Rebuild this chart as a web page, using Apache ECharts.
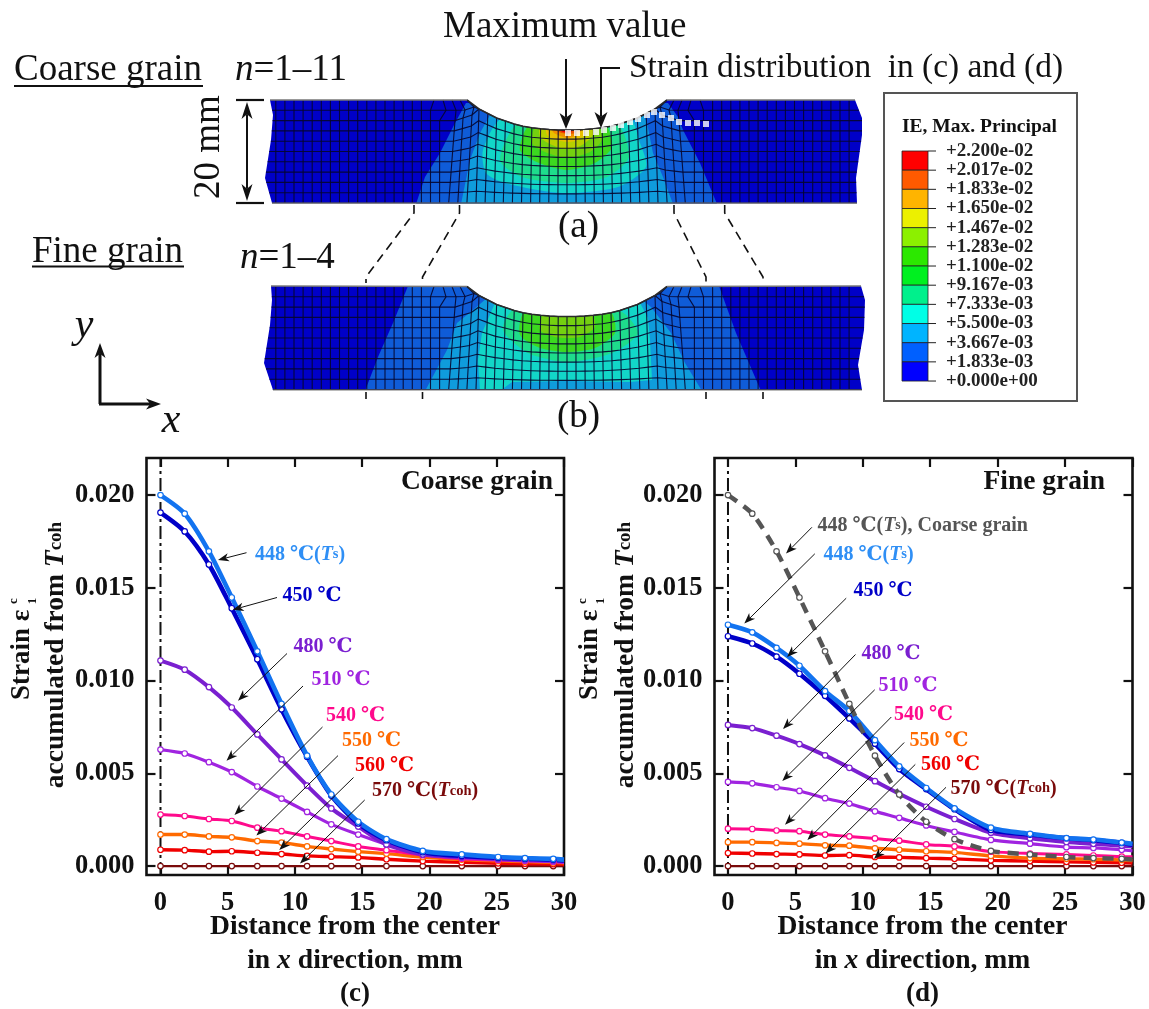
<!DOCTYPE html>
<html><head><meta charset="utf-8">
<style>html,body{margin:0;padding:0;background:#fff}#c{width:1149px;height:1009px}</style>
<script src="https://cdn.jsdelivr.net/npm/echarts@6/dist/echarts.min.js"></script>
</head><body><div id="c"></div>
<script>
// ---------- data ----------
const distance = [0,1.8,3.6,5.3,7.2,9.0,10.9,12.7,14.7,16.8,19.5,22.4,25.1,27.1,29.2,30];
const yTicks = [0,0.005,0.010,0.015,0.020];
const xTicks = [0,5,10,15,20,25,30];

const coarse448 = [.0200,.0190,.01697,.01448,.01158,.00875,.00595,.00386,.00239,.00145,.00082,.00063,.00049,.00043,.00039,.00035];
const coarse450 = [.01906,.01804,.01626,.0139,.01115,.00845,.0059,.0038,.0023,.0014,.00075,.00055,.00045,.0004,.00035,.0003];
const coarse480 = [.01108,.01059,.00965,.00855,.0071,.00575,.00434,.00311,.00213,.00117,.00063,.0005,.0004,.00035,.0003,.00028];
const coarse510 = [.00628,.00607,.0056,.00507,.00429,.00364,.00292,.00225,.0017,.00117,.00063,.00045,.00035,.0003,.00025,.0002];
const coarse540 = [.00278,.0027,.00254,.00243,.00207,.00188,.0016,.00135,.00106,.00086,.00059,.0004,.00032,.00028,.00024,.0002];
const coarse550 = [.0017,.0017,.0016,.00155,.00135,.00127,.00106,.00092,.00078,.00067,.00049,.00035,.00028,.00024,.0002,.00018];
const coarse560 = [.00088,.00086,.00078,.0008,.00072,.00065,.00055,.00051,.00047,.00037,.00027,.0002,.00015,.00013,.00011,.0001];
const coarse570 = [0,0,0,0,0,0,0,0,0,0,0,0,0,0,0,0];

const fine448 = [.01301,.0126,.01176,.0108,.00943,.00836,.00679,.00538,.00421,.00311,.00207,.00174,.00151,.00143,.00127,.0012];
const fine450 = [.01239,.012,.01129,.01037,.00918,.00796,.0066,.00523,.00415,.00307,.00195,.0017,.0015,.0014,.00125,.00115];
const fine480 = [.00761,.00744,.00703,.00658,.00597,.0053,.00458,.0039,.0032,.00254,.0018,.0015,.0013,.0012,.0011,.00105];
const fine510 = [.00454,.00446,.00425,.00405,.00366,.00337,.00295,.0026,.00219,.00184,.00141,.00121,.00102,.00098,.00088,.00082];
const fine540 = [.00202,.002,.00192,.00188,.0017,.0016,.00149,.00137,.00117,.00106,.00078,.00068,.00063,.00057,.00051,.0005];
const fine550 = [.00129,.00129,.00125,.00121,.00112,.0011,.00096,.00088,.0008,.00074,.00055,.00043,.00039,.00037,.00033,.0003];
const fine560 = [.0007,.00068,.00065,.00063,.00057,.00059,.00049,.00047,.00043,.00039,.00031,.00027,.00023,.0002,.00018,.00017];
const fine570 = [0,0,0,0,0,0,0,0,0,0,0,0,0,0,0,0];

const contourLabels = ['+2.200e-02','+2.017e-02','+1.833e-02','+1.650e-02','+1.467e-02','+1.283e-02','+1.100e-02','+9.167e-03','+7.333e-03','+5.500e-03','+3.667e-03','+1.833e-03','+0.000e+00'];
const contourKey = ['#ff0000','#ff5a00','#ffb400','#ecf000','#8cf000','#2ce800','#00f020','#00f08c','#00ffe6','#00b4ff','#0060ff','#0000ff'];

// ---------- styles ----------
const F = "'Liberation Serif','DejaVu Serif','Noto Sans CJK SC',serif";
const C = {t448:'#1273f0',t450:'#0000c8',t480:'#7a1fd0',t510:'#a024e0',t540:'#ff0a8c',t550:'#ff6a00',t560:'#f00000',t570:'#7a0a0a',gray:'#555555'};
const lineDefs = [
  ['570',C.t570,2.4],['560',C.t560,3.4],['550',C.t550,3.4],['540',C.t540,3],['510',C.t510,3.2],['480',C.t480,4],['450',C.t450,4.6],['448',C.t448,4.6]
];

// ---------- schematic scene (hidden axes in scene units) ----------
const plateShade = {base:'#0000c8',b1:'#0f5cd8',b2:'#0f9cdc',b3:'#12d6c8',b4:'#1edc8c',b5:'#3cd820',b6:'#74d010',b7:'#b8d000',b8:'#e8c000',b9:'#f09000',b10:'#e85000',b11:'#ee0000'};
const edgeLeftA=[[270,100],[273,115],[271,140],[265,178],[272,203]];
const edgeRightA=[[855,100],[862,118],[862,135],[856,178],[857,203]];
const edgeLeftB=[[271,286],[272,300],[270,325],[264,363],[273,390]];
const edgeRightB=[[861,286],[865,300],[864,330],[858,365],[862,390]];

const bandsA=[
 ['b1',[[416,204],[425,177],[440,153],[455,123],[466,103],[668,103],[678,117],[683,130],[700,163],[717,204]],0],
 ['b2',[[461,204],[470,160],[480,133],[490,115],[640,108],[647,123],[653,153],[663,177],[673,204]],0],
 ['b3',[[503,118],[483,150],[486,173],[505,183],[562,193],[618,187],[646,167],[640,143],[629,118]],.25],
 ['b4',[[520,122],[500,160],[522,177],[567,183],[607,177],[629,157],[615,122]],.25],
 ['b5',[[531,124],[520,150],[539,163],[567,170],[595,163],[612,147],[604,124]],.25],
 ['b6',[[537,125],[532,143],[545,152],[567,158],[590,152],[602,140],[597,125]],.25],
 ['b7',[[541,125],[540,137],[552,145],[567,149],[582,145],[593,135],[591,125]],.25],
 ['b8',[[547,125],[547,135],[557,140],[567,142],[578,140],[586,133],[585,125]],.25],
 ['b9',[[552,125],[553,132],[560,136],[567,138],[575,136],[581,131],[581,125]],.25],
 ['b10',[[556,125],[557,131],[567,134],[575,133],[578,130],[578,125]],.25],
 ['b11',[[558,125],[561,131],[567,133],[572,131],[574,125]],.25]
];
const bandsB=[
 ['b1',[[408,286],[719,286],[736,333],[761,391],[365,391],[378,357],[393,323]],0],
 ['b2',[[487,298],[473,310],[457,323],[447,350],[425,391],[702,391],[685,363],[671,333],[651,307],[640,298]],0],
 ['b3',[[495,303],[482,333],[478,360],[480,391],[500,391],[512,382],[567,381],[630,382],[652,380],[650,340],[648,318],[640,303]],0],
 ['b4',[[514,310],[503,330],[528,353],[567,362],[612,353],[638,333],[618,310]],.25],
 ['b5',[[525,312],[520,335],[540,348],[567,352],[595,348],[615,333],[610,312]],.25],
 ['b6',[[545,312],[540,330],[555,337],[567,338],[580,337],[595,327],[590,312]],.25]
];
const surfaceDrop=[30,30,29.5,28.8,27.8,26.2,24,21,18,13.5,9];
const strainPath=[[568,133],[577,133],[586,133],[596,132],[604,130],[613,128],[621,125],[630,122],[638,119],[647,115],[654,112],[662,115],[671,118],[679,122],[688,123],[697,123],[706,124]];

const lerp=(a,b,t)=>a+(b-a)*t;
function edgeX(edge,y){for(let i=0;i<edge.length-1;i++){if(y<=edge[i+1][1]){const t=(y-edge[i][1])/(edge[i+1][1]-edge[i][1]);return lerp(edge[i][0],edge[i+1][0],t);}}return edge[edge.length-1][0];}
function node(k,j){
  const a=Math.abs(k),s=k<0?-1:1,xb=9.1*a;let x,y;
  if(j>=2){
    let x2,y2;
    if(a<=10){x2=8.8*a;y2=surfaceDrop[a];}
    else if(a<=13){x2=[95,104,112][a-11];y2=[15,18,20.6][a-11];}
    else{x2=xb;y2=20.6;}
    const t=(j-2)/8;x=lerp(x2,xb,t);y=lerp(y2,103,t);
  }else if(a<11){return null;}
  else if(j===1){x=a<=14?[93,102,111,121][a-11]:xb;y=a<=12?[7,10][a-11]:10.3;}
  else{x=a<=15?[100,107,115,124,133][a-11]:xb;y=0;}
  return [s*x,y];
}
const draw=[];
function plate(top,edgeL,edgeR,bands){
  const cx=567,P=p=>[cx+p[0],top+p[1]];
  draw.push({t:'polygon',pts:[...edgeL,...edgeR.slice().reverse()],fill:plateShade.base});
  bands.forEach(b=>draw.push({t:'polygon',pts:b[1],fill:plateShade[b[0]],smooth:b[2]}));
  // cover the notch and anything under the plate
  const arc=[];for(let k=-10;k<=10;k++)arc.push(P(node(k,2)));
  const notch=[P([-100,0]),P([-94,4.5]),...arc,P([94,4.5]),P([100,0])];
  draw.push({t:'polygon',pts:[P([-104,-2]),...notch,P([104,-2])],fill:'#ffffff'});
  draw.push({t:'polygon',pts:[[360,top+103.5],[770,top+103.5],[770,top+110],[360,top+110]],fill:'#ffffff'});
  // mesh
  const ln={t:'polyline',stroke:'#05052e',lw:1.1,op:.9};
  for(let k=-32;k<=31;k++){const pts=[];for(let j=0;j<=10;j++){const n=node(k,j);if(n)pts.push(P(n));}if(pts.length)draw.push({...ln,pts});}
  for(let j=2;j<=10;j++){const pts=[];for(let k=-32;k<=31;k++)pts.push(P(node(k,j)));
    const y0=pts[0][1];pts.unshift([edgeX(edgeL,y0),y0]);const y1=pts[pts.length-1][1];pts.push([edgeX(edgeR,y1),y1]);draw.push({...ln,pts});}
  const r1=[P(node(-10,2))],r2=[P(node(10,2))];
  for(let k=11;k<=32;k++){r1.push(P(node(-k,1)));if(k<=31)r2.push(P(node(k,1)));}
  r1.push([edgeX(edgeL,top+10.3),top+10.3]);r2.push([edgeX(edgeR,top+10.3),top+10.3]);
  draw.push({...ln,pts:r1},{...ln,pts:r2});
  // outline
  draw.push({t:'polyline',pts:notch,stroke:'#2a2a2a',lw:1.6});
  draw.push({t:'polyline',pts:[edgeL[0],P([-100,0])],stroke:'#777',lw:1.4});
  draw.push({t:'polyline',pts:[P([100,0]),edgeR[0]],stroke:'#777',lw:1.4});
  draw.push({t:'polyline',pts:[edgeL[edgeL.length-1],edgeR[edgeR.length-1]],stroke:'#777',lw:1.2});
}
plate(100,edgeLeftA,edgeRightA,bandsA);
plate(286.5,edgeLeftB,edgeRightB,bandsB);
// contour key
const keyX0=902,keyX1=928,keyTick=936,keyTop=151,keyStep=19.17;
contourKey.forEach((c,i)=>{const a=keyTop+i*keyStep,b=a+keyStep;
  draw.push({t:'polygon',pts:[[keyX0,a],[keyX1,a],[keyX1,b],[keyX0,b]],fill:c,stroke:'#222',lw:.8});});
contourLabels.forEach((l,i)=>{const y=keyTop+i*keyStep;draw.push({t:'polyline',pts:[[keyX1,y],[keyTick,y]],stroke:'#222',lw:1});});

function renderScene(params,api){
  const d=draw[params.dataIndex],pts=d.pts.map(p=>api.coord(p));
  const style=d.t==='polygon'?{fill:d.fill,stroke:d.stroke||null,lineWidth:d.lw||0}:{fill:null,stroke:d.stroke,lineWidth:d.lw,opacity:d.op==null?1:d.op};
  return {type:d.t,z2:params.dataIndex,shape:{points:pts,smooth:d.smooth||0},style,silent:true};
}

// ---------- annotations ----------
const els=[];
function txt(x,y,text,o={}){
  els.push({type:'text',x,y,rotation:o.rot||0,z:200,silent:true,style:{text,fontFamily:F,fontSize:o.size||20,fontWeight:o.weight||'normal',fontStyle:o.style||'normal',fill:o.color||'#111',align:o.align||'left',verticalAlign:'middle',rich:o.rich,lineHeight:o.lh}});
}
function richSet(size,color,small){
  const b={fontFamily:F,fontSize:size,fontWeight:'bold',fill:color};
  return {a:{...b},i:{...b,fontStyle:'italic'},s:{...b,fontSize:small||size*.72}};
}
function arrow(x1,y1,x2,y2,o={}){
  const L=o.len||11,W=o.w||4.2,col=o.color||'#111',lw=o.lw||1;
  const d=Math.hypot(x2-x1,y2-y1),ux=(x2-x1)/d,uy=(y2-y1)/d,nx=-uy,ny=ux;
  const bx=x2-ux*L,by=y2-uy*L,mx=x2-ux*L*.72,my=y2-uy*L*.72;
  if(!o.noLine)els.push({type:'polyline',z:190,silent:true,shape:{points:[[x1,y1],[mx,my]]},style:{stroke:col,lineWidth:lw,fill:null}});
  els.push({type:'polygon',z:191,silent:true,shape:{points:[[x2,y2],[bx+nx*W,by+ny*W],[mx,my],[bx-nx*W,by-ny*W]]},style:{fill:col}});
}
function path(pts,o={}){els.push({type:'polyline',z:190,silent:true,shape:{points:pts},style:{stroke:o.color||'#111',lineWidth:o.lw||1.5,lineDash:o.dash,fill:null}});}

// header text
txt(443,27,'Maximum value',{size:37});
txt(14,70,'Coarse grain',{size:37});path([[14,86],[203,86]],{lw:2});
txt(32,252,'Fine grain',{size:37});path([[32,266.5],[184,266.5]],{lw:2});
const nRich={a:{fontFamily:F,fontSize:37,fill:'#111'},i:{fontFamily:F,fontSize:37,fontStyle:'italic',fill:'#111'}};
txt(235,70,'{i|n}{a|=1–11}',{rich:nRich});
txt(240,258,'{i|n}{a|=1–4}',{rich:nRich});
txt(629,68,'Strain distribution  in (c) and (d)',{size:33.4});
txt(209,147,'20 mm',{size:37,rot:Math.PI/2,align:'center'});
txt(578.5,227,'(a)',{size:37,align:'center'});
txt(578.5,417,'(b)',{size:37,align:'center'});
txt(84,326,'y',{size:42,style:'italic',align:'center'});
txt(171,421,'x',{size:42,style:'italic',align:'center'});
// header arrows
arrow(566,59,566,129,{len:16,w:6.5,lw:2});
path([[620,68],[601,68],[601,112]],{lw:2});arrow(601,100,601,128,{len:16,w:6.5,lw:2});
path([[236,100],[264,100]],{lw:2.2});path([[236,203],[264,203]],{lw:2.2});
arrow(247,150,247,102,{len:17,w:5.5,lw:2});arrow(247,150,247,201,{len:17,w:5.5,lw:2});
arrow(100,404,100,343,{len:15,w:5.5,lw:3});arrow(99,404,161,404,{len:15,w:5.5,lw:3});
const dash={dash:[9,6],lw:1.6};
path([[414,205],[414,213],[366,277],[366,283]],dash);
path([[459.5,205],[459.5,213],[422.5,277],[422.5,283]],dash);
path([[674,205],[674,213],[706,277],[706,283]],dash);
path([[724.7,205],[724.7,213],[763,277],[763,283]],dash);
[366,422.5,706,763].forEach(x=>path([[x,392],[x,399]],{lw:1.6}));
// key frame
els.push({type:'rect',z:1,silent:true,shape:{x:884,y:93,width:193,height:308},style:{fill:'transparent',stroke:'#555',lineWidth:2}});
txt(902,127,'IE, Max. Principal',{size:19.5,weight:'bold'});
contourLabels.forEach((l,i)=>txt(946,keyTop+i*keyStep,l,{size:19,weight:'bold',color:'#222'}));

// panel text
function panel(o){
  txt(o.title[0],o.title[1],o.titleText,{size:27.5,weight:'bold'});
  txt(o.xc,927,'Distance from the center',{size:27.6,weight:'bold',align:'center'});
  txt(o.xc,961,'{a|in }{i|x}{a| direction, mm}',{align:'center',rich:richSet(27.6,'#111')});
  txt(o.xc,994,o.tag,{size:27,weight:'bold',align:'center'});
  txt(o.ys,700,'Strain ε',{size:27,weight:'bold',rot:Math.PI/2});
  txt(o.ysup,601,'c',{size:13,weight:'bold',rot:Math.PI/2,align:'center'});
  txt(o.ysub,601,'1',{size:13,weight:'bold',rot:Math.PI/2,align:'center'});
  txt(o.yacc,655,'{a|accumulated from }{i|T}{s|coh}',{rot:Math.PI/2,align:'center',rich:{...richSet(27.5,'#111',19)}});
  o.labels.forEach(l=>{
    const r=richSet(l.size||20,l.c,l.small||14.5);
    txt(l.x,l.y,l.s,{rich:r});
  });
  o.arrows.forEach(a=>arrow(a[0],a[1],a[2],a[3]));
}
const TS='{a|448 ℃(}{i|T}{s|s}{a|)}',TC='{a|570 ℃(}{i|T}{s|coh}{a|)}';
panel({title:[401,482],titleText:'Coarse grain',xc:355,tag:'(c)',ys:22,ysup:14,ysub:33,yacc:56,
 labels:[
  {x:255,y:554.5,s:TS,c:'#2f8ff5'},{x:282.5,y:595.5,s:'{a|450 ℃}',c:C.t450},{x:293.5,y:647,s:'{a|480 ℃}',c:C.t480},
  {x:311.5,y:680,s:'{a|510 ℃}',c:C.t510},{x:326,y:716,s:'{a|540 ℃}',c:C.t540},{x:342,y:741,s:'{a|550 ℃}',c:C.t550},
  {x:355,y:765.5,s:'{a|560 ℃}',c:C.t560},{x:372,y:791,s:TC,c:C.t570}],
 arrows:[[246.5,552.7,218,560],[277,597.5,232.7,609.8],[287,653.5,238,700.7],[303,686,226.5,760.7],[322.5,727,234.5,815],[338,755.6,256.4,835.6],[353.5,777.5,279.3,850],[364.7,800,300,863.6]]
});
panel({title:[983.5,482],titleText:'Fine grain',xc:922.5,tag:'(d)',ys:590,ysup:583,ysub:601,yacc:625.5,
 labels:[
  {x:817.5,y:525.5,s:'{a|448 ℃(}{i|T}{s|s}{a|), Coarse grain}',c:C.gray,size:20,small:14},
  {x:823.5,y:554.5,s:TS,c:'#2f8ff5'},{x:853.5,y:591,s:'{a|450 ℃}',c:C.t450},{x:861.5,y:653.5,s:'{a|480 ℃}',c:C.t480},
  {x:878.5,y:685.5,s:'{a|510 ℃}',c:C.t510},{x:894,y:714.5,s:'{a|540 ℃}',c:C.t540},{x:909.5,y:741,s:'{a|550 ℃}',c:C.t550},
  {x:921,y:764.5,s:'{a|560 ℃}',c:C.t560},{x:950.5,y:788.5,s:TC,c:C.t570}],
 arrows:[[811.9,527.3,786,553.5],[814.8,553.8,744.3,623.6],[846.2,598.2,787.1,657],[855.5,654.5,783,729],[874.7,689.8,782.3,781],[891.3,717,785,824.7],[904.2,742.5,807.4,840],[915.3,764.4,825.5,853.5],[946,787.3,874,859]]
});

// ---------- axes ----------
const yMin=-0.00048,yMax=0.022;
const noLine={show:false,onZero:false};
function xAxes(grid,xMin){
  const base={type:'value',gridIndex:grid,min:xMin,max:30,splitLine:{show:false},axisLine:noLine,
    axisTick:{show:true,inside:true,length:9,lineStyle:{color:'#111',width:2.2},customValues:xTicks}};
  return [
   {...base,position:'bottom',axisLabel:{show:true,customValues:xTicks,margin:15,fontFamily:F,fontSize:26.5,fontWeight:'bold',color:'#111',formatter:v=>String(v)}},
   {...base,position:'top',axisLabel:{show:false}}];
}
function yAxes(grid){
  const base={type:'value',gridIndex:grid,min:yMin,max:yMax,splitLine:{show:false},axisLine:noLine,
    axisTick:{show:true,inside:true,length:9,lineStyle:{color:'#111',width:2.2},customValues:yTicks}};
  return [
   {...base,position:'left',axisLabel:{show:true,customValues:yTicks,margin:12,fontFamily:F,fontSize:26.5,fontWeight:'bold',color:'#111',formatter:v=>v.toFixed(3)}},
   {...base,position:'right',axisLabel:{show:false}}];
}
const curve=(vals,name,col,w,xi,yi)=>({type:'line',name,xAxisIndex:xi,yAxisIndex:yi,smooth:.25,clip:true,
  symbol:'circle',symbolSize:5.5,showAllSymbol:true,z:5,silent:true,
  data:vals.map((v,i)=>i===distance.length-1?{value:[distance[i],v],symbol:'none'}:[distance[i],v]),
  lineStyle:{color:col,width:w},itemStyle:{color:'#fff',borderColor:col,borderWidth:1.2}});
const centerLine=(xi,yi)=>({type:'line',xAxisIndex:xi,yAxisIndex:yi,symbol:'none',silent:true,z:3,data:[[0,yMin],[0,yMax]],lineStyle:{color:'#111',width:2,type:[13,4,3,4]}});

const coarseSets={'448':coarse448,'450':coarse450,'480':coarse480,'510':coarse510,'540':coarse540,'550':coarse550,'560':coarse560,'570':coarse570};
const fineSets={'448':fine448,'450':fine450,'480':fine480,'510':fine510,'540':fine540,'550':fine550,'560':fine560,'570':fine570};

const chart=echarts.init(document.getElementById('c'),null,{renderer:'canvas'});
chart.setOption({
  animation:false,backgroundColor:'#fff',
  grid:[
   {left:146.5,top:458,width:417.5,height:417,show:true,borderColor:'#111',borderWidth:2.6,backgroundColor:'transparent'},
   {left:714.5,top:458,width:418,height:417,show:true,borderColor:'#111',borderWidth:2.6,backgroundColor:'transparent'},
   {left:0,top:0,width:1149,height:440,show:false}
  ],
  xAxis:[...xAxes(0,-1.04),...xAxes(1,-1),{type:'value',gridIndex:2,min:0,max:1149,show:false}],
  yAxis:[...yAxes(0),...yAxes(1),{type:'value',gridIndex:2,min:0,max:440,inverse:true,show:false}],
  series:[
   centerLine(0,0),centerLine(2,2),
   ...lineDefs.map(d=>curve(coarseSets[d[0]],'c'+d[0],d[1],d[2],0,0)),
   ...lineDefs.map(d=>curve(fineSets[d[0]],'f'+d[0],d[1],d[2],2,2)),
   {...curve(coarse448,'coarse',C.gray,4.5,2,2),z:6,lineStyle:{color:C.gray,width:4.5,type:[11,8]}},
   {type:'custom',name:'schematic',xAxisIndex:4,yAxisIndex:4,coordinateSystem:'cartesian2d',clip:false,silent:true,z:8,
    data:draw.map((d,i)=>[i,0]),renderItem:renderScene},
   {type:'scatter',name:'strain path',xAxisIndex:4,yAxisIndex:4,symbol:'rect',symbolSize:6,silent:true,z:9,
    data:strainPath,itemStyle:{color:'#fff'}}
  ],
  graphic:{elements:els}
});
</script></body></html>
